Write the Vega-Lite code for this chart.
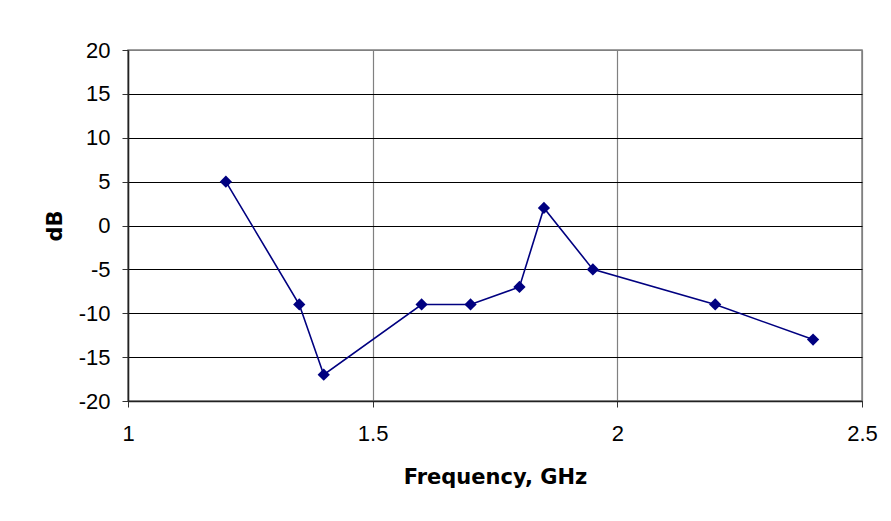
{
  "$schema": "https://vega.github.io/schema/vega-lite/v6.json",
  "width": 734,
  "height": 351,
  "autosize": "none",
  "padding": {"left": 128, "top": 50, "right": 29, "bottom": 120},
  "background": "white",
  "config": {
    "view": {"stroke": "#808080", "strokeWidth": 1.5},
    "font": "Liberation Sans"
  },
  "data": {
    "values": [
      {"freq": 1.2, "dB": 5},
      {"freq": 1.35, "dB": -9},
      {"freq": 1.4, "dB": -17},
      {"freq": 1.6, "dB": -9},
      {"freq": 1.7, "dB": -9},
      {"freq": 1.8, "dB": -7},
      {"freq": 1.85, "dB": 2},
      {"freq": 1.95, "dB": -5},
      {"freq": 2.2, "dB": -9},
      {"freq": 2.4, "dB": -13}
    ]
  },
  "encoding": {
    "x": {
      "field": "freq",
      "type": "quantitative",
      "title": "Frequency, GHz",
      "scale": {"domain": [1, 2.5], "nice": false, "zero": false},
      "axis": {
        "values": [1, 1.5, 2, 2.5],
        "labelExpr": "datum.value + ''",
        "labelFont": "Liberation Sans",
        "labelFontSize": 22,
        "labelColor": "black",
        "labelPadding": 16,
        "labelFlush": false,
        "tickColor": "#333333",
        "tickSize": 6,
        "domainColor": "#222222",
        "domainWidth": 1.5,
        "gridColor": "#808080",
        "gridWidth": 1.2,
        "titleFont": "DejaVu Sans",
        "titleFontSize": 21,
        "titleFontWeight": "bold",
        "titleColor": "black",
        "titlePadding": 22
      }
    },
    "y": {
      "field": "dB",
      "type": "quantitative",
      "title": "dB",
      "scale": {"domain": [-20, 20], "nice": false},
      "axis": {
        "values": [-20, -15, -10, -5, 0, 5, 10, 15, 20],
        "labelExpr": "datum.value + ''",
        "labelFont": "Liberation Sans",
        "labelFontSize": 22,
        "labelColor": "black",
        "labelPadding": 12,
        "labelFlush": false,
        "tickColor": "#333333",
        "tickSize": 6,
        "domainColor": "#222222",
        "domainWidth": 1.5,
        "gridColor": {"condition": {"test": "datum.value === 20", "value": "#808080"}, "value": "black"},
        "gridWidth": 1,
        "titleFont": "DejaVu Sans",
        "titleFontSize": 21,
        "titleFontWeight": "bold",
        "titleColor": "black",
        "titlePadding": 13
      }
    }
  },
  "layer": [
    {"mark": {"type": "line", "color": "#000080", "strokeWidth": 1.6}},
    {"mark": {"type": "point", "shape": "diamond", "filled": true, "color": "#000080", "opacity": 1, "size": 150}}
  ]
}
